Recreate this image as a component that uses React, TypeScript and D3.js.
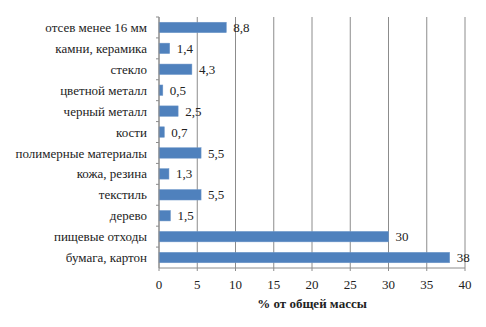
import React from "react";
import * as d3 from "d3";

const categories = [
  "отсев менее 16 мм",
  "камни, керамика",
  "стекло",
  "цветной металл",
  "черный металл",
  "кости",
  "полимерные материалы",
  "кожа, резина",
  "текстиль",
  "дерево",
  "пищевые отходы",
  "бумага, картон",
];
const values = [8.8, 1.4, 4.3, 0.5, 2.5, 0.7, 5.5, 1.3, 5.5, 1.5, 30, 38];
const labels = ["8,8", "1,4", "4,3", "0,5", "2,5", "0,7", "5,5", "1,3", "5,5", "1,5", "30", "38"];
const xTicks = [0, 5, 10, 15, 20, 25, 30, 35, 40];
const axisTitle = "% от общей массы";

export default function App() {
  const W = 486, H = 327;
  const left = 159, right = 465, top = 17, bottom = 268;
  const x = d3.scaleLinear().domain([0, 40]).range([left, right]);
  const y = d3.scaleBand().domain(categories).range([top, bottom]).paddingInner(0.5).paddingOuter(0.25);
  const ts: React.CSSProperties = {
    fontFamily: "'Times New Roman', Times, 'Liberation Serif', Tinos, 'Noto Serif', FreeSerif, 'Nimbus Roman', 'DejaVu Serif', serif",
    fontSize: "13px",
  };
  return (
    <svg width={W} height={H} style={{ position: "absolute", left: 0, top: 0, background: "#fff" }}>
      {xTicks.map((t) => (
        <line key={"g" + t} x1={x(t)} x2={x(t)} y1={top} y2={bottom} stroke="#8c8c8c" strokeWidth={1} />
      ))}
      <line x1={left} x2={right} y1={bottom} y2={bottom} stroke="#8c8c8c" strokeWidth={1} />
      {xTicks.map((t) => (
        <line key={"k" + t} x1={x(t)} x2={x(t)} y1={bottom} y2={bottom + 3} stroke="#8c8c8c" strokeWidth={1} />
      ))}
      {categories.map((c, i) => (
        <g key={c}>
          <rect x={x(0)} y={y(c)!} width={x(values[i]) - x(0)} height={y.bandwidth()} fill="#4f81bd" stroke="#6f97c9" strokeWidth={0.5} />
          <text x={x(values[i]) + 7} y={y(c)! + y.bandwidth() / 2} dy="0.35em" style={ts} fill="#222">
            {labels[i]}
          </text>
          <line x1={left - 3} x2={left} y1={y(c)! - y.step() * 0.25} y2={y(c)! - y.step() * 0.25} stroke="#8c8c8c" />
          <text x={left - 12} y={y(c)! + y.bandwidth() / 2} dy="0.35em" textAnchor="end" style={ts} fill="#222">
            {c}
          </text>
        </g>
      ))}
      <line x1={left} x2={left} y1={top} y2={bottom} stroke="#8c8c8c" strokeWidth={1} />
      {xTicks.map((t) => (
        <text key={"t" + t} x={x(t)} y={289} textAnchor="middle" style={ts} fill="#222">
          {t}
        </text>
      ))}
      <text x={(left + right) / 2} y={308} textAnchor="middle" style={{ ...ts, fontWeight: "bold" }} fill="#222">
        {axisTitle}
      </text>
    </svg>
  );
}
